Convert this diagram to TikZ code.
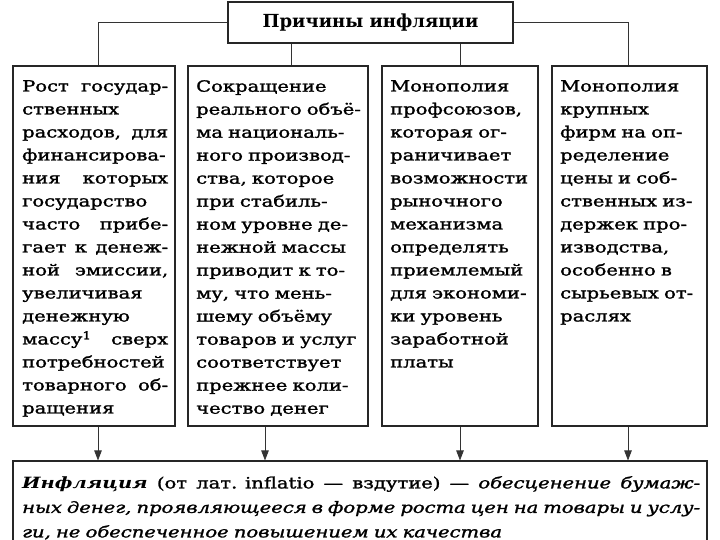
\documentclass[tikz,border=0pt]{standalone}
\usepackage{fontspec}
\setmainfont{DejaVu Serif}[FakeStretch=1.26, UprightFeatures={FakeBold=1.5}, ItalicFeatures={FakeBold=1.5}]
\newfontfamily\headfont{DejaVu Serif}
\usetikzlibrary{arrows.meta}
\newcommand{\J}[1]{\leavevmode\hbox to \hsize{\spaceskip=0.3em plus 1fil minus 0.1em\relax #1}}
\begin{document}
\begin{tikzpicture}[x=1pt,y=-1pt,
  box/.style={draw=black!85, line width=1.1pt, inner sep=0pt},
  conn/.style={draw=black!80, line width=0.8pt},
  arr/.style={conn, -{Triangle[width=7.5pt,length=10pt]}},
  txt/.style={inner sep=0pt, anchor=north west, align=left, font=\fontsize{15.5}{23}\selectfont}]
\useasboundingbox (0,0) rectangle (720,540);
\fill[white] (0,0) rectangle (720,540);
\node[box, minimum width=285pt, minimum height=41pt] (top) at (370.5,22.5) {\headfont\fontsize{18}{20}\selectfont\bfseries Причины инфляции};
\node[box, minimum width=162pt, minimum height=360pt] (b1) at (94,246) {};
\node[box, minimum width=180pt, minimum height=360pt] (b2) at (278,246) {};
\node[box, minimum width=156pt, minimum height=360pt] (b3) at (460,246) {};
\node[box, minimum width=155pt, minimum height=360pt] (b4) at (629.5,246) {};
\node[box, minimum width=694pt, minimum height=109pt] (bot) at (360,515.5) {};
% connectors
\draw[conn] (top.west) -| ([xshift=4pt]b1.north);
\draw[conn] (top.east) -| ([xshift=-1.5pt]b4.north);
\draw[conn] ([xshift=13pt]b2.north |- top.south) -- ([xshift=13pt]b2.north);
\draw[conn] (b3.north |- top.south) -- (b3.north);
\draw[arr] ([xshift=4pt]b1.south) -- ([xshift=4pt]b1.south |- bot.north);
\draw[arr] ([xshift=-13pt]b2.south) -- ([xshift=-13pt]b2.south |- bot.north);
\draw[arr] (b3.south) -- (b3.south |- bot.north);
\draw[arr] ([xshift=-1.5pt]b4.south) -- ([xshift=-1.5pt]b4.south |- bot.north);
% texts
\node[txt, text width=146pt] (t1) at (22,80) {\J{Рост государ-}\\ственных\\\J{расходов, для}\\финансирова-\\\J{ния которых}\\государство\\\J{часто прибе-}\\\J{гает к денеж-}\\\J{ной эмиссии,}\\увеличивая\\денежную\\\J{массу\textsuperscript{1} сверх}\\потребностей\\\J{товарного об-}\\ращения};
\node[txt, text width=170pt] (t2) at (196,80) {Сокращение\\реального объё-\\ма националь-\\ного производ-\\ства, которое\\при стабиль-\\ном уровне де-\\нежной массы\\приводит к то-\\му, что мень-\\шему объёму\\товаров и услуг\\соответствует\\прежнее коли-\\чество денег};
\node[txt, text width=145pt] (t3) at (390,80) {Монополия\\профсоюзов,\\которая ог-\\раничивает\\возможности\\рыночного\\механизма\\определять\\приемлемый\\для экономи-\\ки уровень\\заработной\\платы};
\node[txt, text width=145pt] (t4) at (560,80) {Монополия\\крупных\\фирм на оп-\\ределение\\цены и соб-\\ственных из-\\держек про-\\изводства,\\особенно в\\сырьевых от-\\раслях};
\node[txt, text width=678pt, font=\fontsize{15.5}{24.5}\selectfont] (t5) at (22,476) {\J{\textbf{\textit{Инфляция}} (от лат. inflatio — вздутие) — \textit{обесценение бумаж-}}\\\J{\textit{ных денег, проявляющееся в форме роста цен на товары и услу-}}\\\textit{ги, не обеспеченное повышением их качества}};
\end{tikzpicture}
\end{document}
